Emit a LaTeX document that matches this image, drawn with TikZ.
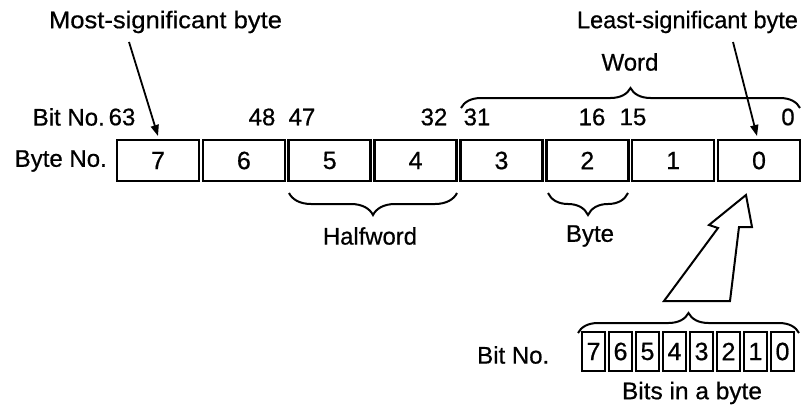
\documentclass[tikz,border=0pt]{standalone}
\usepackage{fontspec}
\usepackage{graphicx}
\setmainfont{Liberation Sans}[FakeBold=0.6]
\usetikzlibrary{arrows.meta,decorations.pathreplacing,calc}
\newcommand{\fitw}[2]{\resizebox{#1}{\height}{#2}}
\begin{document}
\begin{tikzpicture}[x=1pt,y=-1pt,
  txt/.style={inner sep=0pt,font=\fontsize{24}{27}\selectfont},
  bytebox/.style={draw,line width=2.6pt,minimum width=82pt,minimum height=41pt,inner sep=0pt,font=\fontsize{25}{28}\selectfont},
  bitbox/.style={draw,line width=2pt,minimum width=23pt,minimum height=39pt,inner sep=0pt,font=\fontsize{25}{28}\selectfont},
  brc/.style={decorate,decoration={brace,amplitude=#1},line width=2pt},
  ptr/.style={line width=1.8pt,-{Triangle[length=11pt,width=8pt]}}]
\fill[white] (0,0) rectangle (806,412);
\useasboundingbox (0,0) rectangle (806,412);

% byte boxes
\foreach \i [evaluate=\i as \d using int(7-\i)] in {0,...,7}{
  \node[bytebox] (B\d) at ({158+85.86*\i},160.5) {\d};
}

% labels
\node[txt,anchor=east] (bitno) at (105,117) {Bit No.};
\node[txt,anchor=east] (byteno) at (107,161) {Byte No.};
\node[txt] (n63) at (122,117) {63};
\node[txt] (n48) at (262,117) {48};
\node[txt] (n47) at (302,117) {47};
\node[txt] (n32) at (434,117) {32};
\node[txt] (n31) at (477,117) {31};
\node[txt] (n16) at (592,117) {16};
\node[txt] (n15) at (633,117) {15};
\node[txt] (n0) at (788,117) {0};

\node[txt] (msb) at (165.5,22) {\fitw{233pt}{Most-significant byte}};
\node[txt] (lsb) at (687.5,22) {\fitw{221pt}{Least-significant byte}};
\coordinate (msbS) at (129,42);
\coordinate (msbE) at (158,136);
\coordinate (lsbS) at (733,42);
\coordinate (lsbE) at (757,136);
\draw[ptr] (msbS) -- (msbE);
\draw[ptr] (lsbS) -- (lsbE);

% Word brace
\draw[brc=20pt] (461,108) -- (800,108);
\node[txt] (word) at (630,62) {Word};

% Halfword and Byte braces
\draw[brc=22pt] (457,193) -- (289,193);
\node[txt] (half) at (370,236) {\fitw{94pt}{Halfword}};
\draw[brc=22pt] (628,193) -- (548,193);
\node[txt] (byte) at (590,236) {Byte};

% hollow arrow
\draw[line width=2pt,line join=miter] (746,195) -- (752,227) -- (739,227) -- (730,301)
  -- (664,301) -- (718,228) -- (709,225) -- cycle;

% bits in a byte
\foreach \i [evaluate=\i as \d using int(7-\i)] in {0,...,7}{
  \node[bitbox] (b\d) at ({593.5+27*\i},351.5) {\d};
}
\draw[brc=20pt] (578,333) -- (799,333);
\node[txt,anchor=west] (bitno2) at (477,355) {Bit No.};
\node[txt] (bits) at (692,393) {\fitw{140pt}{Bits in a byte}};
\end{tikzpicture}
\end{document}
